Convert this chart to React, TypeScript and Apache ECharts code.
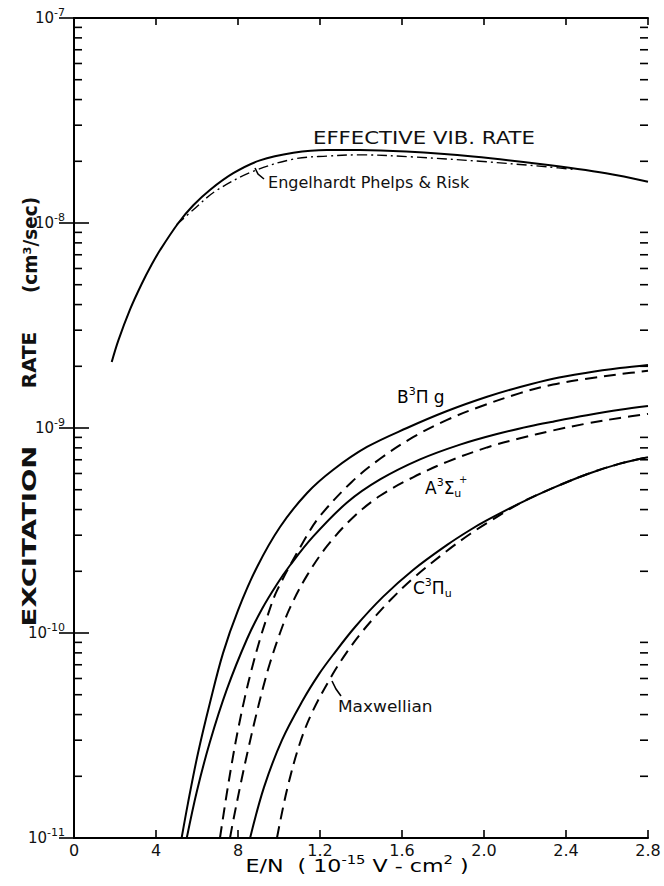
import React, { useEffect, useRef } from 'react';
import * as echarts from 'echarts';

// Axis ticks
const xTickLabels = ['0', '4', '8', '1.2', '1.6', '2.0', '2.4', '2.8'];
const yDecadeExponents = [-11, -10, -9, -8, -7];
const minorMantissas = [2, 3, 4, 5, 6, 7, 8, 9];

// Effective vibrational rate (solid)
const vibE = [0.184, 0.216, 0.273, 0.33, 0.379, 0.42, 0.509, 0.582, 0.663, 0.777, 0.907, 1.07, 1.233, 1.395, 1.62, 1.946, 2.273, 2.595, 2.8];
const vibRate = [2.1e-9, 2.67e-9, 3.78e-9, 5.04e-9, 6.27e-9, 7.38e-9, 1.0e-8, 1.22e-8, 1.45e-8, 1.75e-8, 2.02e-8, 2.2e-8, 2.27e-8, 2.27e-8, 2.23e-8, 2.11e-8, 1.94e-8, 1.75e-8, 1.59e-8];

// Engelhardt, Phelps & Risk (dash-dot)
const eprE = [0.5, 0.582, 0.69, 0.87, 1.07, 1.233, 1.395, 1.654, 1.98, 2.306, 2.45];
const eprRate = [9.8e-9, 1.16e-8, 1.43e-8, 1.78e-8, 2.05e-8, 2.12e-8, 2.15e-8, 2.1e-8, 2.0e-8, 1.88e-8, 1.82e-8];

// B3Πg
const bSolidE = [0.525, 0.556, 0.605, 0.663, 0.727, 0.8, 0.893, 1.005, 1.137, 1.263, 1.429, 1.624, 1.82, 2.015, 2.176, 2.337, 2.502, 2.663, 2.8];
const bSolidRate = [1e-11, 1.48e-11, 2.6e-11, 4.56e-11, 7.98e-11, 1.29e-10, 2.1e-10, 3.29e-10, 4.82e-10, 6.24e-10, 8.08e-10, 1.0e-9, 1.21e-9, 1.42e-9, 1.585e-9, 1.74e-9, 1.86e-9, 1.96e-9, 2.03e-9];
const bMaxwE = [0.712, 0.745, 0.776, 0.8, 0.834, 0.868, 0.907, 0.946, 0.99, 1.127, 1.2, 1.356, 1.493, 1.654, 1.82, 1.98, 2.176, 2.337, 2.502, 2.663, 2.8];
const bMaxwRate = [1e-11, 1.64e-11, 2.51e-11, 3.37e-11, 4.88e-11, 6.73e-11, 9.31e-11, 1.23e-10, 1.61e-10, 2.88e-10, 3.72e-10, 5.47e-10, 7.08e-10, 9.02e-10, 1.096e-9, 1.27e-9, 1.48e-9, 1.63e-9, 1.74e-9, 1.83e-9, 1.9e-9];

// A3Σu+
const aSolidE = [0.55, 0.6, 0.663, 0.746, 0.844, 0.917, 0.99, 1.054, 1.166, 1.332, 1.493, 1.688, 1.883, 2.063, 2.224, 2.337, 2.502, 2.663, 2.8];
const aSolidRate = [1e-11, 1.7e-11, 2.94e-11, 5.32e-11, 9.35e-11, 1.31e-10, 1.73e-10, 2.14e-10, 2.95e-10, 4.33e-10, 5.61e-10, 7.03e-10, 8.3e-10, 9.35e-10, 1.02e-9, 1.074e-9, 1.153e-9, 1.227e-9, 1.28e-9];
const aMaxwE = [0.761, 0.776, 0.818, 0.849, 0.883, 0.922, 0.956, 1.005, 1.054, 1.137, 1.234, 1.361, 1.493, 1.654, 1.82, 2.015, 2.176, 2.337, 2.502, 2.663, 2.8];
const aMaxwRate = [1e-11, 1.205e-11, 1.94e-11, 2.69e-11, 3.77e-11, 5.4e-11, 7.14e-11, 1.0e-10, 1.33e-10, 1.91e-10, 2.65e-10, 3.66e-10, 4.67e-10, 5.75e-10, 6.84e-10, 8.04e-10, 8.91e-10, 9.73e-10, 1.052e-9, 1.12e-9, 1.172e-9];

// C3Πu
const cSolidE = [0.859, 0.927, 1.015, 1.117, 1.195, 1.263, 1.371, 1.507, 1.654, 1.82, 1.932, 2.015, 2.176, 2.337, 2.502, 2.663, 2.8];
const cSolidRate = [1e-11, 1.77e-11, 3.01e-11, 4.71e-11, 6.3e-11, 7.81e-11, 1.07e-10, 1.5e-10, 2.03e-10, 2.69e-10, 3.18e-10, 3.55e-10, 4.3e-10, 5.1e-10, 5.95e-10, 6.7e-10, 7.2e-10];
const cMaxwE = [0.99, 1.039, 1.102, 1.166, 1.263, 1.332, 1.395, 1.468, 1.541, 1.654, 1.82, 1.932, 2.015, 2.176, 2.337, 2.502, 2.663, 2.8];
const cMaxwRate = [1e-11, 1.72e-11, 2.9e-11, 4.19e-11, 6.32e-11, 8.09e-11, 9.84e-11, 1.2e-10, 1.44e-10, 1.85e-10, 2.52e-10, 3.04e-10, 3.44e-10, 4.3e-10, 5.1e-10, 5.95e-10, 6.7e-10, 7.2e-10];

const FONT = 'DejaVu Sans';
const INK = '#111';

const zip = (xs: number[], ys: number[]) => xs.map((x, i) => [x, ys[i]]);

const solid = { color: '#000', width: 2, type: 'solid' as const };
const dashed = { color: '#000', width: 2, type: [12, 7] };
const dashDot = { color: '#000', width: 1.4, type: [10, 4, 2, 4] };

const line = (name: string, data: number[][], lineStyle: any, z = 3) => ({
  name,
  type: 'line',
  data,
  smooth: 0.35,
  symbol: 'none',
  showSymbol: false,
  silent: true,
  clip: true,
  z,
  lineStyle,
});

const richLabel = {
  n: { fontFamily: FONT, fontSize: 17, color: INK },
  s: { fontFamily: FONT, fontSize: 11, color: INK, padding: [0, 0, 12, 0] },
  u: { fontFamily: FONT, fontSize: 11, color: INK, padding: [10, 0, 0, 0] },
};

// one word of the vertical axis title, read bottom to top
const yTitleWord = (text: string, cy: number, stretch: number) => ({
  type: 'text', x: 30, y: cy, rotation: Math.PI / 2, scaleX: stretch,
  style: {
    text, fontFamily: FONT, fontSize: 19, fontWeight: 'bold',
    fill: INK, textAlign: 'center', textVerticalAlign: 'middle',
  },
});

export default function App() {
  const ref = useRef<HTMLDivElement>(null);

  useEffect(() => {
    if (!ref.current) return;
    const chart = echarts.init(ref.current, null, { renderer: 'svg' });

    const minorTicks: number[][] = [];
    for (let d = yDecadeExponents[0]; d < yDecadeExponents[yDecadeExponents.length - 1]; d++) {
      for (const m of minorMantissas) minorTicks.push([0, m * Math.pow(10, d)]);
    }

    const xMin = 0;
    const xMax = 2.8;
    const yMin = Math.pow(10, yDecadeExponents[0]);
    const yMax = Math.pow(10, yDecadeExponents[yDecadeExponents.length - 1]);

    const axisLine = { show: true, lineStyle: { color: '#000', width: 2 } };

    const option: any = {
      animation: false,
      backgroundColor: '#fff',
      grid: { left: 74, right: 16, top: 18, bottom: 48, containLabel: false },
      xAxis: [
        {
          type: 'value', position: 'bottom', min: xMin, max: xMax, interval: 0.4,
          axisLine, splitLine: { show: false },
          axisTick: { show: true, inside: true, length: 8, lineStyle: { color: '#000', width: 1.6 } },
          axisLabel: {
            show: true, margin: 4, fontFamily: FONT, fontSize: 16, color: INK,
            formatter: (v: number) => xTickLabels[Math.round(v / 0.4)] ?? '',
          },
        },
        {
          type: 'value', position: 'top', min: xMin, max: xMax, interval: 0.4,
          axisLine, splitLine: { show: false },
          axisTick: { show: true, inside: true, length: 7, lineStyle: { color: '#000', width: 1.6 } },
          axisLabel: { show: false },
        },
      ],
      yAxis: [
        {
          type: 'log', logBase: 10, position: 'left', min: yMin, max: yMax,
          axisLine, splitLine: { show: false }, minorTick: { show: false },
          axisTick: { show: true, inside: true, length: 15, lineStyle: { color: '#000', width: 1.6 } },
          axisLabel: {
            show: true, margin: 9, color: INK,
            formatter: (v: number) => {
              const e = Math.round(Math.log10(v));
              return yDecadeExponents.includes(e) ? `{b|10}{s|${e}}` : '';
            },
            rich: {
              b: { fontFamily: FONT, fontSize: 15, color: INK },
              s: { fontFamily: FONT, fontSize: 11, color: INK, padding: [0, 0, 11, 0] },
            },
          },
        },
        {
          type: 'log', logBase: 10, position: 'right', min: yMin, max: yMax,
          axisLine, splitLine: { show: false },
          axisTick: { show: true, inside: true, length: 15, lineStyle: { color: '#000', width: 1.6 } },
          axisLabel: { show: false },
        },
      ],
      series: [
        {
          type: 'custom',
          xAxisIndex: 0,
          yAxisIndex: 0,
          silent: true,
          clip: false,
          data: minorTicks,
          renderItem: (_params: any, api: any) => {
            const v = api.value(1);
            const pL = api.coord([xMin, v]);
            const pR = api.coord([xMax, v]);
            const st = { stroke: '#000', lineWidth: 1.6 };
            return {
              type: 'group',
              children: [
                { type: 'line', shape: { x1: pL[0], y1: pL[1], x2: pL[0] + 8, y2: pL[1] }, style: st },
                { type: 'line', shape: { x1: pR[0], y1: pR[1], x2: pR[0] - 8, y2: pR[1] }, style: st },
              ],
            };
          },
        },
        line('Effective vib. rate', zip(vibE, vibRate), solid),
        line('Engelhardt, Phelps & Risk', zip(eprE, eprRate), dashDot, 2),
        line('B3Πg', zip(bSolidE, bSolidRate), solid),
        line('B3Πg Maxwellian', zip(bMaxwE, bMaxwRate), dashed),
        line('A3Σu+', zip(aSolidE, aSolidRate), solid),
        line('A3Σu+ Maxwellian', zip(aMaxwE, aMaxwRate), dashed),
        line('C3Πu', zip(cSolidE, cSolidRate), solid),
        line('C3Πu Maxwellian', zip(cMaxwE, cMaxwRate), dashed),
      ],
      graphic: [
        {
          type: 'text', x: 313, y: 138, scaleX: 1.18,
          style: { text: 'EFFECTIVE VIB. RATE', fontFamily: FONT, fontSize: 18, fill: INK, textVerticalAlign: 'middle' },
        },
        {
          type: 'text', x: 268, y: 183, scaleX: 1.07,
          style: { text: 'Engelhardt Phelps & Risk', fontFamily: FONT, fontSize: 15, fill: INK, textVerticalAlign: 'middle' },
        },
        {
          type: 'polyline',
          shape: { points: [[255, 168], [258, 174], [264, 179]] },
          style: { stroke: '#000', lineWidth: 1.6, fill: 'none' },
        },
        {
          type: 'text', x: 397, y: 397,
          style: { text: '{n|B}{s|3}{n|Π g}', rich: richLabel, textVerticalAlign: 'middle' },
        },
        {
          type: 'text', x: 425, y: 488,
          style: { text: '{n|A}{s|3}{n|Σ}{u|u}', rich: richLabel, textVerticalAlign: 'middle' },
        },
        {
          type: 'text', x: 459, y: 479,
          style: { text: '+', fontFamily: FONT, fontSize: 10, fill: INK, textVerticalAlign: 'middle' },
        },
        {
          type: 'text', x: 413, y: 588,
          style: { text: '{n|C}{s|3}{n|Π}{u|u}', rich: richLabel, textVerticalAlign: 'middle' },
        },
        {
          type: 'text', x: 338, y: 707, scaleX: 1.06,
          style: { text: 'Maxwellian', fontFamily: FONT, fontSize: 16, fill: INK, textVerticalAlign: 'middle' },
        },
        {
          type: 'polyline',
          shape: { points: [[332, 681], [336, 689], [341, 696]] },
          style: { stroke: '#000', lineWidth: 1.6, fill: 'none' },
        },
        yTitleWord('EXCITATION', 536, 1.45),
        yTitleWord('RATE', 360, 1.05),
        yTitleWord('(cm³/sec)', 245, 0.97),
        {
          type: 'text', x: 357, y: 866, scaleX: 1.23,
          style: {
            text: '{n|E/N  ( 10}{s|-15}{n| V - cm}{s|2}{n| )}',
            rich: {
              n: { fontFamily: FONT, fontSize: 18, color: INK },
              s: { fontFamily: FONT, fontSize: 12, color: INK, padding: [0, 0, 12, 0] },
            },
            textAlign: 'center', textVerticalAlign: 'middle',
          },
        },
      ],
    };

    chart.setOption(option);
    return () => chart.dispose();
  }, []);

  return (
    <div
      ref={ref}
      style={{ position: 'fixed', left: 0, top: 0, width: 664, height: 886, background: '#fff' }}
    />
  );
}
